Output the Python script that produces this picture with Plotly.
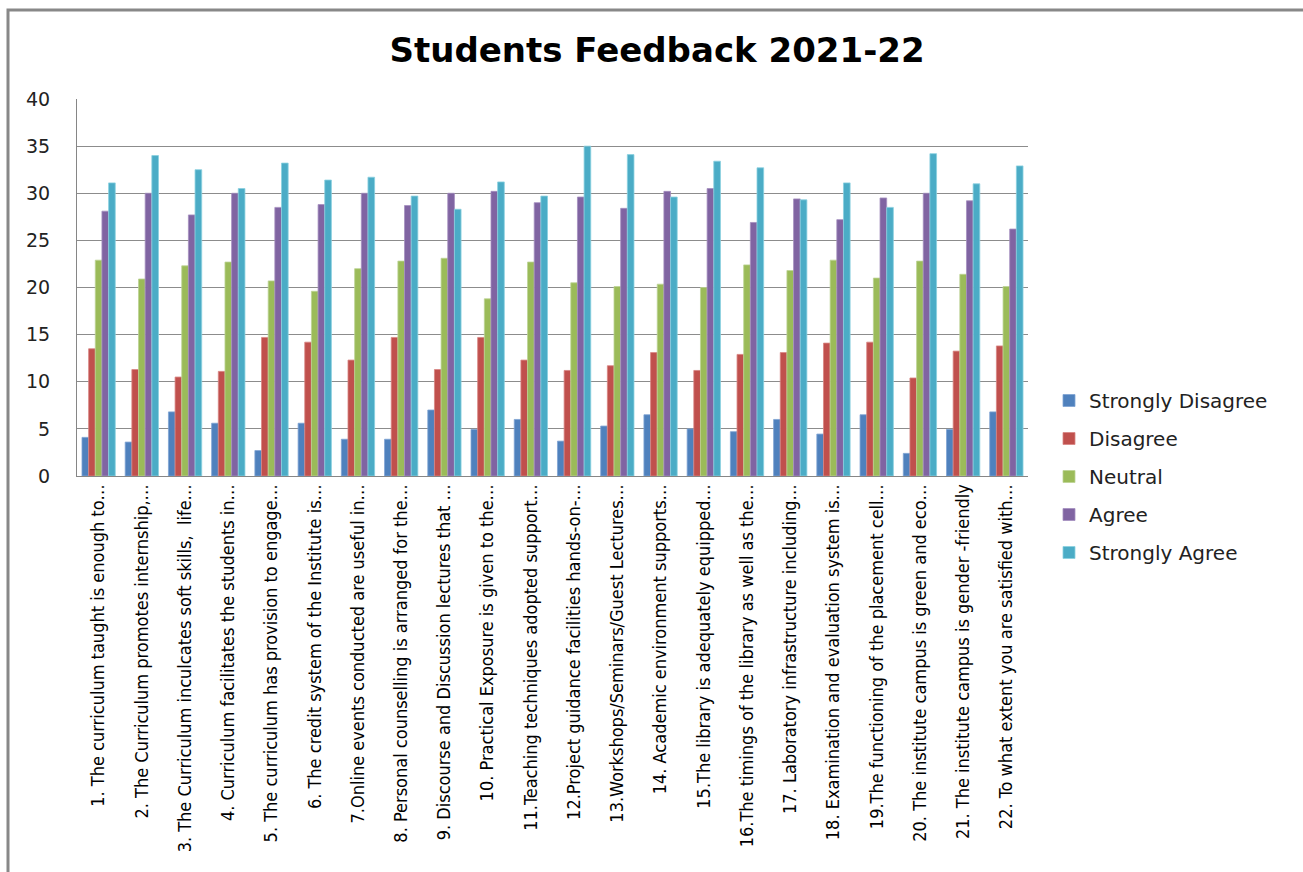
import plotly.graph_objects as go

categories = [
    "1. The curriculum taught is enough to…",
    "2. The Curriculum promotes internship,…",
    "3. The Curriculum inculcates soft skills,  life…",
    "4. Curriculum facilitates the students in…",
    "5. The curriculum has provision to engage…",
    "6. The credit system of the Institute is…",
    "7.Online events conducted are useful in…",
    "8. Personal counselling is arranged for the…",
    "9. Discourse and Discussion lectures that …",
    "10. Practical Exposure is given to the…",
    "11.Teaching techniques adopted support…",
    "12.Project guidance facilities hands-on-…",
    "13.Workshops/Seminars/Guest Lectures…",
    "14. Academic environment supports…",
    "15.The library is adequately equipped…",
    "16.The timings of the library as well as the…",
    "17. Laboratory infrastructure including…",
    "18. Examination and evaluation system is…",
    "19.The functioning of the placement cell…",
    "20. The institute campus is green and eco…",
    "21. The institute campus is gender -friendly",
    "22. To what extent you are satisfied with…",
]

strongly_disagree = [4.1, 3.6, 6.8, 5.6, 2.7, 5.6, 3.9, 3.9, 7.0, 4.95, 6.0,
                     3.7, 5.3, 6.5, 5.0, 4.7, 6.0, 4.45, 6.5, 2.4, 4.95, 6.8]
disagree = [13.5, 11.3, 10.5, 11.1, 14.7, 14.2, 12.3, 14.7, 11.3, 14.7, 12.3,
            11.2, 11.7, 13.1, 11.2, 12.9, 13.1, 14.1, 14.2, 10.4, 13.25, 13.8]
neutral = [22.9, 20.9, 22.3, 22.7, 20.7, 19.6, 22.0, 22.8, 23.1, 18.8, 22.7,
           20.5, 20.1, 20.35, 20.0, 22.4, 21.8, 22.9, 21.0, 22.8, 21.4, 20.1]
agree = [28.1, 30.0, 27.7, 30.0, 28.5, 28.8, 30.0, 28.7, 30.0, 30.2, 29.0,
         29.6, 28.4, 30.2, 30.5, 26.9, 29.4, 27.2, 29.5, 30.0, 29.2, 26.2]
strongly_agree = [31.1, 34.0, 32.5, 30.5, 33.2, 31.4, 31.7, 29.7, 28.3, 31.2, 29.7,
                  35.0, 34.1, 29.6, 33.4, 32.7, 29.3, 31.1, 28.5, 34.2, 31.0, 32.9]

series_names = ["Strongly Disagree", "Disagree", "Neutral", "Agree", "Strongly Agree"]
series_values = [strongly_disagree, disagree, neutral, agree, strongly_agree]
colors = ["#4F81BD", "#C0504D", "#9BBB59", "#8064A2", "#4BACC6"]
edge_colors = ["#7FA3D3", "#D88583", "#BCD394", "#A48FBF", "#8AD0E0"]

x_idx = list(range(len(categories)))

fig = go.Figure()
for name, vals, c, ec in zip(series_names, series_values, colors, edge_colors):
    fig.add_trace(go.Bar(
        x=x_idx, y=vals, name=name, legendgroup=name,
        marker=dict(color=c, line=dict(color=ec, width=0.8)),
    ))

W, H = 1303, 872
L, R, T, B = 77, 1028, 99, 476
pw, ph = R - L, B - T

def px(x):
    return (x - L) / pw

def py(y):
    return (B - y) / ph

fig.update_layout(
    width=W, height=H,
    margin=dict(l=L, r=W - R, t=T, b=H - B, autoexpand=False),
    paper_bgcolor="white", plot_bgcolor="white",
    barmode="group", bargap=0.23, bargroupgap=0,
    title=dict(text="<b>Students Feedback 2021-22</b>",
               x=657 / W, xanchor="center", y=1 - 50 / H, yanchor="middle",
               font=dict(family="DejaVu Sans", size=34, color="black")),
    legend=dict(x=px(1049), xanchor="left", y=py(381), yanchor="top",
                font=dict(family="DejaVu Sans", size=20, color="#222"),
                tracegroupgap=9, bgcolor="rgba(0,0,0,0)"),
    showlegend=True,
    font=dict(family="DejaVu Sans", color="#222"),
)

fig.update_xaxes(
    tickmode="array", tickvals=x_idx, ticktext=categories, tickangle=-90,
    tickfont=dict(family="Liberation Sans Narrow, DejaVu Sans Condensed, Arial Narrow, sans-serif",
                  size=18, color="black"),
    range=[-0.5, len(categories) - 0.5],
    showline=True, linecolor="#868686", linewidth=1,
    showgrid=False, ticks="", automargin=False,
)
fig.update_yaxes(
    range=[0, 40], dtick=5, tick0=0,
    tickfont=dict(family="DejaVu Sans", size=19, color="#222"),
    showgrid=True, gridcolor="#8c8c8c", gridwidth=1,
    showline=True, linecolor="#868686", linewidth=1,
    zeroline=False, ticks="", ticklabelstandoff=22, automargin=False,
)

fig.add_shape(type="rect", xref="paper", yref="paper",
              x0=px(8), x1=px(1310), y0=py(880), y1=py(10),
              line=dict(color="#888888", width=3), fillcolor="rgba(0,0,0,0)", layer="above")

fig.write_html("out.html", config={"displayModeBar": False},
               post_script="document.body.style.margin='0px';document.body.style.overflow='hidden';")
